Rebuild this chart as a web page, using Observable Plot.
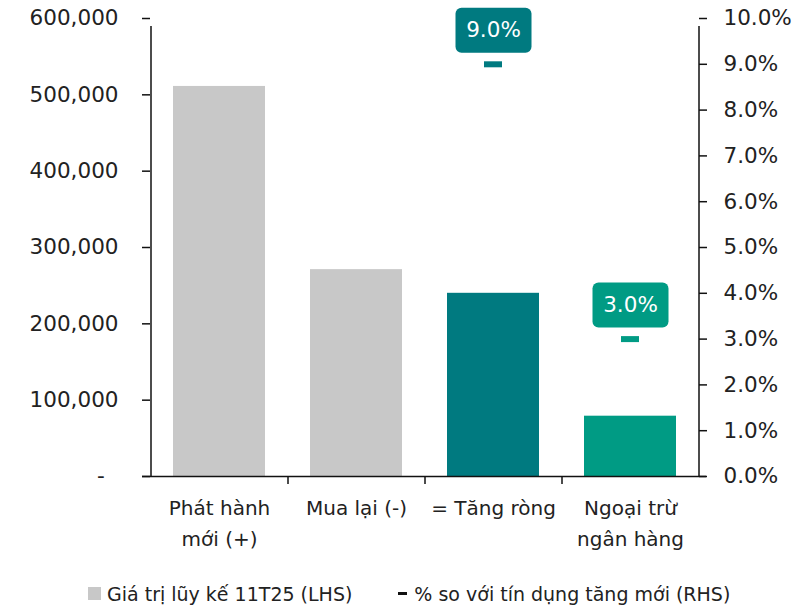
<!DOCTYPE html>
<html>
<head>
<meta charset="utf-8">
<script src="https://cdn.jsdelivr.net/npm/d3@7"></script>
<script src="https://cdn.jsdelivr.net/npm/@observablehq/plot@0.6"></script>
<style>
  body { margin: 0; background: #fff; font-family: "DejaVu Sans", sans-serif; }
  #chart { width: 809px; }
  .legend { display: flex; align-items: center; height: 27px; padding-left: 88px; font-size: 19px; color: #222; }
  .legend .item { display: flex; align-items: center; white-space: nowrap; }
  .sw-bar { width: 13px; height: 13px; background: #c8c8c8; margin-right: 6px; }
  .sw-tick { width: 9px; height: 3px; background: #111; margin-right: 7px; }
</style>
</head>
<body>
<div id="chart"></div>
<script>
// ---- data ----
const categories = ["Phát hành\nmới (+)", "Mua lại (-)", "= Tăng ròng", "Ngoại trừ\nngân hàng"];
const values = [511000, 271000, 240000, 79000];
const pctValues = [null, null, 9.0, 3.0];
const barColors = ["#c8c8c8", "#c8c8c8", "#007a80", "#009b84"];
const leftTicks = [0, 100000, 200000, 300000, 400000, 500000, 600000];
const rightTicks = [0, 1, 2, 3, 4, 5, 6, 7, 8, 9, 10];
const legendLabels = ["Giá trị lũy kế 11T25 (LHS)", "% so với tín dụng tăng mới (RHS)"];

// ---- layout ----
const width = 809, height = 580;
const marginLeft = 150, marginRight = 111, marginTop = 18, marginBottom = 104;
const yMax = 600000, pctMax = 10;
const k = yMax / pctMax; // right-axis scale factor
const step = (width - marginLeft - marginRight) / categories.length;

const rows = categories.map((c, i) => ({cat: c, value: values[i], pct: pctValues[i], color: barColors[i]}));
const pctRows = rows.filter(d => d.pct != null);

const fmtLeft = d => d === 0 ? "-\u00a0\u00a0" : d3.format(",")(d);
const fmtRight = d => (d / k).toFixed(1) + "%";

// rounded-rectangle symbol for the value labels
const roundBox = {
  draw(ctx) {
    const w = 38, h = 22.5, r = 6;
    ctx.moveTo(-w + r, -h);
    ctx.arcTo(w, -h, w, h, r);
    ctx.arcTo(w, h, -w, h, r);
    ctx.arcTo(-w, h, -w, -h, r);
    ctx.arcTo(-w, -h, w, -h, r);
    ctx.closePath();
  }
};

const boundaryRows = categories.map((c, i) => ({cat: c, dx: -step / 2, full: i === 0}))
  .concat([{cat: categories[categories.length - 1], dx: step / 2, full: true}]);

const chart = Plot.plot({
  width, height, marginLeft, marginRight, marginTop, marginBottom,
  style: {fontFamily: "DejaVu Sans, sans-serif", fontSize: "20px", color: "#222"},
  x: {domain: categories, paddingInner: 0.33, paddingOuter: 0.165, label: null},
  y: {domain: [0, yMax], label: null},
  marks: [
    Plot.barY(rows, {x: "cat", y: "value", fill: "color"}),
    // axis lines
    Plot.ruleY([0], {stroke: "#111", strokeWidth: 1.5, insetLeft: -8, insetRight: -8}),
    ...boundaryRows.map(b => Plot.ruleX([b], {
      x: "cat", dx: b.dx, y1: 0, y2: b.full ? yMax : 0,
      insetBottom: -8, stroke: "#111", strokeWidth: 1.5
    })),
    Plot.axisY({anchor: "left", ticks: leftTicks, tickFormat: fmtLeft, tickSize: 8, tickPadding: 24,
      fontSize: 21.5, stroke: "#111", strokeWidth: 1.5, fill: "#222"}),
    Plot.axisY({anchor: "right", ticks: rightTicks.map(t => t * k), tickFormat: fmtRight, tickSize: 8, tickPadding: 17,
      fontSize: 21.5, stroke: "#111", strokeWidth: 1.5, fill: "#222"}),
    Plot.axisX({anchor: "bottom", tickSize: 0, tickPadding: 16, fontSize: 20, lineHeight: 1.55, fill: "#222"}),
    // percentage markers (RHS)
    Plot.tickY(pctRows, {x: "cat", y: d => d.pct * k, stroke: "color", strokeWidth: 6, insetLeft: 55, insetRight: 55}),
    Plot.dot(pctRows, {x: "cat", y: d => d.pct * k, symbol: roundBox, fill: "color", stroke: "none", dy: -34}),
    Plot.text(pctRows, {x: "cat", y: d => d.pct * k, text: d => d.pct.toFixed(1) + "%", fill: "white", fontSize: 21.5, dy: -34})
  ]
});
document.getElementById("chart").append(chart);

// legend
const legend = document.createElement("div");
legend.className = "legend";
legend.innerHTML = `<div class="item"><span class="sw-bar"></span><span>${legendLabels[0]}</span></div>
  <div class="item" style="margin-left:46px"><span class="sw-tick"></span><span>${legendLabels[1]}</span></div>`;
document.getElementById("chart").append(legend);
</script>
</body>
</html>
